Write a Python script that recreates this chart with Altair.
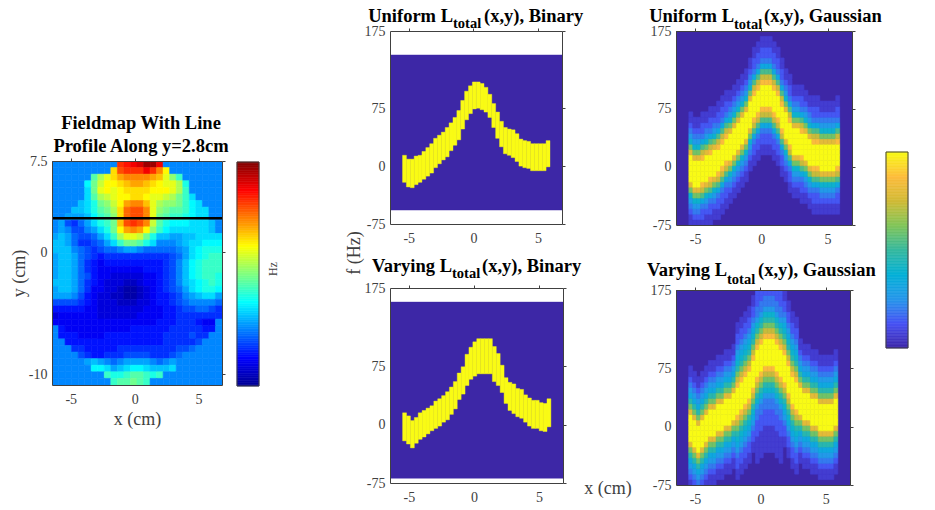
import altair as alt
import pandas as pd
import numpy as np

FONT = "Liberation Serif"
GREY = "#404040"
INDIGO = "#3d27a6"
YELLOW = "#f9fb15"

# ---- Fieldmap: one character per cell, levels 0-9a-z over -41..129 Hz
map_rows = [
    "9999999999tuvwyyv999999999",
    "999999999nstttvtqm99999999",
    "999999gjlnpqqqqpolif999999",
    "99999dhkmmnopponmllje99999",
    "99999chlmlmnnnnmmmljf99999",
    "99999cgjklmmnnmllkjhfc9999",
    "9999bcehikmpqqoljiihfdc999",
    "999bbceghjnrssqlihggfdcc99",
    "99aaabdfginrssqlhgffedcc99",
    "9a768acefhostsqkgedddcccb9",
    "9a9779acehmpqpmifdccccccb9",
    "aba8778acfjllkhebbaabbcccc",
    "bba86678acfhhgec999abccddd",
    "bbb9876788" + "9aa98" + "8888" + "9acdeee",
    "abba87" + "65666666" + "666678a" + "cdeff",
    "abba86" + "54555555" + "555679b" + "defff",
    "abba86" + "54444444" + "555679b" + "defff",
    "abba87" + "54433333" + "445679b" + "deffe",
    "bbba86" + "54333223" + "445679b" + "cdefe",
    "abba86" + "44332112" + "345678a" + "cdeed",
    "aaa975" + "43322112" + "3455679" + "abcca",
    "777765" + "43332223" + "3455678" + "99998",
    "555554" + "43333333" + "4445567" + "78876",
    "344444" + "43333334" + "4445566" + "66666",
    "444444" + "44444444" + "4455566" + "65449",
    "954444" + "44444455" + "5555666" + "66559",
    "955544" + "44555555" + "5556666" + "76699",
    "995555" + "55555555" + "5556666" + "67999",
    "999665" + "55556666" + "6666677" + "89999",
    "999976" + "55666777" + "7666789" + "99999",
    "99999a" + "ba989aaa" + "a989a99" + "99999",
    "999999" + "ddcabcdd" + "cbbbc99" + "99999",
    "999999" + "99feefgg" + "fef9999" + "99999",
    "999999" + "999fgghg" + "f999999" + "99999",
]
line_y = [2.8]

# ---- Binary bands: per column upper / lower edge (Hz)
uni_top = [14, 9, 9, 13, 14, 19, 24, 29, 36, 40, 44, 50, 56, 63, 72, 85, 97, 104, 109, 109,
           107, 102, 93, 81, 70, 58, 50, 48, 47, 42, 35, 33, 32, 29, 29, 29, 29, 33]
uni_bot = [-21, -27, -28, -24, -21, -17, -13, -9, -2, 3, 8, 12, 20, 27, 34, 48, 60, 68, 74, 75,
           73, 70, 63, 50, 36, 25, 16, 14, 11, 6, 0, -2, -3, -6, -6, -6, -6, -1]
var_top = [15, 11, 5, 9, 15, 18, 21, 24, 30, 33, 37, 42, 48, 55, 66, 74, 90, 99, 106, 110,
           110, 110, 110, 100, 91, 76, 60, 54, 52, 46, 45, 38, 34, 31, 31, 28, 27, 33]
var_bot = [-21, -25, -30, -24, -19, -16, -12, -8, -5, -2, 3, 6, 13, 20, 32, 39, 50, 58, 62, 65,
           65, 65, 65, 55, 50, 41, 27, 18, 14, 10, 8, 3, -2, -5, -5, -8, -9, -3]
uni_extent = [-57, 144]
var_extent = [-69, 157]

# ---- Gaussian panels: per column first row + hex levels (0-f over 0..1)
A = "1123469cfffffc9643211"
B = "1122358bdffffdb8532211"
uni_start = [0, -1, -1, -1, 0, 0, 1, 1, 2, 3, 4, 5, 6, 7, 8, 10, 11, 12, 13, 13,
             13, 12, 11, 9, 8, 6, 5, 5, 4, 4, 3, 2, 2, 2, 2, 2, 2, 2]
uni_cols = [A, A, A, B, A, B, A, B, B, B, A, A, A, A, A, A, B, B, B, B,
            B, B, B, B, A, B, A, A, B, A, A, B, B, A, A, A, A, B]
W = "11234579cfffffc97543211"
M = "1122345679bdfffffdb9765432211"
P = "11111222334679bdff" + "f" + "ffdb97643322211111"
var_start = [-1, -2, -3, -2, -1, 0, 0, 1, 1, 2, 2, 3, 1, 2, 3, 4, 6, 4, 5, 6,
             6, 6, 5, 4, 7, 5, 3, 2, 4, 3, 3, 2, 2, 1, 1, 1, 1, 2]
var_cols = [W, W, W, W, W, W, W, W, W, W, W, W, M, M, M, M, M, P, P, P,
            P, P, P, P, M, M, M, M, W, W, W, W, W, W, W, W, W, W]

# ---- Axis ticks / domains
map_x_dom = [-6.47, 6.83]
map_y_dom = [-10.9, 7.5]
f_x_dom = [-6.45, 6.85]
f_y_dom = [-75, 175]
x_ticks = [-5, 0, 5]
map_y_ticks = [-10, 0, 7.5]
f_ticks = [-75, 0, 75, 175]
jet_ticks = [-41, 0, 129]
par_ticks = [0, 0.2, 0.4, 0.6, 0.8, 1]

jet_dom = [-41, -19.75, 22.75, 65.25, 107.75, 129]
jet_col = ["#00008f", "#0000ff", "#00ffff", "#ffff00", "#ff0000", "#800000"]
par_dom = [0, .125, .25, .375, .5, .625, .75, .875, 1]
par_col = ["#3e26a8", "#4752f4", "#2797eb", "#03b0d7", "#36b99f", "#80c559", "#d1bb36", "#fdbc3c", YELLOW]

JET = alt.Scale(domain=jet_dom, range=jet_col, interpolate="rgb")
PAR = alt.Scale(domain=par_dom, range=par_col, interpolate="rgb")

X0, DX, NR = -5.48, 0.3, 36
DF = 250 / NR


def map_frame():
    dx = (map_x_dom[1] - map_x_dom[0]) / 26
    dy = (map_y_dom[1] - map_y_dom[0]) / len(map_rows)
    rec = []
    for r, row in enumerate(map_rows):
        for c, ch in enumerate(row.ljust(26, "9")[:26]):
            rec.append(dict(x=map_x_dom[0] + c * dx, x2=map_x_dom[0] + (c + 1) * dx,
                            y=map_y_dom[1] - (r + 1) * dy, y2=map_y_dom[1] - r * dy,
                            v=-41 + int(ch, 36) * 170 / 35))
    return pd.DataFrame(rec)


def gauss_frame(starts, cols):
    rec = []
    for i, (s, col) in enumerate(zip(starts, cols)):
        for k, ch in enumerate(col):
            r = s + k
            if 0 <= r < NR:
                rec.append(dict(x=X0 + i * DX, x2=X0 + (i + 1) * DX,
                                y=-75 + r * DF, y2=-75 + (r + 1) * DF, v=int(ch, 16) / 15))
    return pd.DataFrame(rec)


def band_frame(top, bot):
    return pd.DataFrame(dict(x=[X0 + i * DX for i in range(len(top))],
                             x2=[X0 + (i + 1) * DX for i in range(len(top))],
                             y=bot, y2=top))


def sc(d):
    return alt.Scale(domain=d, nice=False, zero=False)


def axes(xd, yd, xt, yt, xtitle=None, ytitle=None, ytp=None):
    common = dict(grid=False, domainColor=GREY, domainWidth=1, labelFont=FONT, labelFontSize=14,
                  labelColor=GREY, labelExpr="'' + datum.value", labelOverlap=False, labelFlush=False,
                  titleFont=FONT, titleFontSize=18, titleFontWeight="normal", titleColor=GREY, zindex=1)
    d = pd.DataFrame(dict(x=[xd[0]], y=[yd[0]]))
    bl = alt.Chart(d).mark_point(opacity=0, size=1).encode(
        x=alt.X("x:Q", scale=sc(xd), axis=alt.Axis(orient="bottom", values=xt, ticks=False, labelPadding=7,
                                                    title=xtitle, **common)),
        y=alt.Y("y:Q", scale=sc(yd), axis=alt.Axis(orient="left", values=yt, ticks=False, labelPadding=5,
                                                    title=ytitle, **(dict(titlePadding=ytp) if ytp is not None else {}),
                                                    **common)),
    )
    tr_common = dict(grid=False, domainColor=GREY, domainWidth=1, labels=False, ticks=True, tickSize=3,
                     tickColor=GREY, title=None, zindex=1)
    tr = alt.Chart(d).mark_point(opacity=0, size=1).encode(
        x=alt.X("x:Q", scale=sc(xd), axis=alt.Axis(orient="top", values=xt, **tr_common)),
        y=alt.Y("y:Q", scale=sc(yd), axis=alt.Axis(orient="right", values=yt, **tr_common)),
    )
    return [bl, tr]


def txt(s, x, y, size=18.5, align="left", weight="bold", color="black", angle=0):
    return alt.Chart(pd.DataFrame({"t": [s]})).mark_text(
        font=FONT, fontSize=size, fontWeight=weight, color=color, align=align, baseline="alphabetic", angle=angle
    ).encode(text="t:N", x=alt.value(x), y=alt.value(y))


def cells(df, xd, yd, scale):
    return alt.Chart(df).mark_rect(strokeWidth=0.6, clip=True).encode(
        x=alt.X("x:Q", scale=sc(xd), axis=None), x2="x2:Q",
        y=alt.Y("y:Q", scale=sc(yd), axis=None), y2="y2:Q",
        color=alt.Color("v:Q", scale=scale, legend=None),
        stroke=alt.Stroke("v:Q", scale=scale, legend=None),
    )


def plain(df, xd, yd, col):
    return alt.Chart(df).mark_rect(color=col, stroke=col, strokeWidth=0.4, clip=True).encode(
        x=alt.X("x:Q", scale=sc(xd), axis=None), x2="x2:Q",
        y=alt.Y("y:Q", scale=sc(yd), axis=None), y2="y2:Q",
    )


def build(layers, w, h):
    return alt.layer(*layers).resolve_axis(x="independent", y="independent").properties(width=w, height=h)


def spacer(w, h):
    return alt.Chart(pd.DataFrame({"a": [1]})).mark_point(opacity=0, size=1).encode(
        x=alt.value(0), y=alt.value(0)).properties(width=w, height=h)


def title3(a, b, c, end_a, end_b, base, sub):
    return [txt(a, end_a, base, align="right"), txt(b, end_a, sub, size=14.5), txt(c, end_b, base)]


def binary(top, bot, ext, w, h, ttl):
    bg = pd.DataFrame(dict(x=[f_x_dom[0]], x2=[f_x_dom[1]], y=[ext[0]], y2=[ext[1]]))
    return build([plain(bg, f_x_dom, f_y_dom, INDIGO),
                  plain(band_frame(top, bot), f_x_dom, f_y_dom, YELLOW)]
                 + axes(f_x_dom, f_y_dom, x_ticks, f_ticks) + ttl, w, h)


def gauss(starts, cols, w, h, ttl):
    bg = pd.DataFrame(dict(x=[f_x_dom[0]], x2=[f_x_dom[1]], y=[f_y_dom[0]], y2=[f_y_dom[1]]))
    return build([plain(bg, f_x_dom, f_y_dom, INDIGO),
                  cells(gauss_frame(starts, cols), f_x_dom, f_y_dom, PAR)]
                 + axes(f_x_dom, f_y_dom, x_ticks, f_ticks) + ttl, w, h)


def colorbar(dom, scale, ticks, w, h, extra=()):
    lv = np.linspace(dom[0], dom[1], 129)
    df = pd.DataFrame(dict(x=[0] * 128, x2=[1] * 128, y=lv[:-1], y2=lv[1:], v=(lv[:-1] + lv[1:]) / 2))
    base = alt.Chart(df).mark_rect(strokeWidth=0.6).encode(
        x=alt.X("x:Q", scale=sc([0, 1]), axis=None), x2="x2:Q",
        y=alt.Y("y:Q", scale=sc(dom), axis=alt.Axis(
            orient="right", values=ticks, ticks=False, grid=False, domainColor=GREY, labelFont=FONT,
            labelFontSize=14, labelColor=GREY, labelExpr="'' + datum.value", labelOverlap=False,
            labelFlush=False, labelPadding=5, zindex=1, title=None)),
        y2="y2:Q",
        color=alt.Color("v:Q", scale=scale, legend=None),
        stroke=alt.Stroke("v:Q", scale=scale, legend=None),
    )
    frame = alt.Chart(pd.DataFrame(dict(x=[0], x2=[1], y=[dom[0]], y2=[dom[1]]))).mark_rect(
        fillOpacity=0, stroke=GREY, strokeWidth=1).encode(
        x=alt.X("x:Q", scale=sc([0, 1]), axis=None), x2="x2:Q",
        y=alt.Y("y:Q", scale=sc(dom), axis=None), y2="y2:Q")
    return alt.layer(base, frame, *extra).properties(width=w, height=h)


def indep(c):
    return c.resolve_scale(color="independent", stroke="independent")


field = build(
    [cells(map_frame(), map_x_dom, map_y_dom, JET),
     alt.Chart(pd.DataFrame(dict(x=[map_x_dom[0]], x2=[map_x_dom[1]], y=line_y))).mark_rule(
         color="black", strokeWidth=2.5).encode(
         x=alt.X("x:Q", scale=sc(map_x_dom), axis=None), x2="x2:Q",
         y=alt.Y("y:Q", scale=sc(map_y_dom), axis=None))]
    + axes(map_x_dom, map_y_dom, x_ticks, map_y_ticks, xtitle="x (cm)", ytitle="y (cm)", ytp=0)
    + [txt("Fieldmap With Line", 89, -32, align="center"),
       txt("Profile Along y=2.8cm", 89, -9, align="center")],
    170, 224)

bin_u = binary(uni_top, uni_bot, uni_extent, 172, 193,
               title3("Uniform L", "total", "(x,y), Binary", 63, 94, -9, -3))
bin_v = binary(var_top, var_bot, var_extent, 173, 195,
               title3("Varying L", "total", "(x,y), Binary", 62, 92, -16, -10))
gau_u = gauss(uni_start, uni_cols, 176, 194,
              title3("Uniform L", "total", "(x,y), Gaussian", 58, 88, -9, -2))
gau_v = gauss(var_start, var_cols, 174, 195,
              title3("Varying L", "total", "(x,y), Gaussian", 51, 82, -14, -6))

hz = txt("Hz", 40, 107, size=12, weight="normal", color=GREY, align="center", angle=270)
col_map = indep(alt.vconcat(spacer(1, 83), field, spacing=0))
col_jet = indep(alt.vconcat(spacer(1, 130), colorbar([-41, 129], JET, jet_ticks, 22, 224, extra=[hz]), spacing=0))
col_f = alt.layer(spacer(78, 1), txt("f (Hz)", 80, 222, size=18, weight="normal", color=GREY, align="center", angle=270)
                  ).properties(width=78, height=1)
col_bin = indep(alt.vconcat(bin_u, bin_v, spacing=12))
col_x = alt.layer(spacer(48, 1), txt("x (cm)", 10, 463, size=18, weight="normal", color=GREY, align="center")
                  ).properties(width=48, height=1)
col_gau = indep(alt.vconcat(gau_u, gau_v, spacing=15))
col_par = indep(alt.vconcat(spacer(1, 120), colorbar([0, 1], PAR, par_ticks, 22, 196), spacing=0))

chart = indep(alt.hconcat(col_map, spacer(5, 1), col_jet, col_f, col_bin, col_x, col_gau,
                          spacer(2, 1), col_par, spacing=0)).properties(
    padding=dict(left=2, top=-1, right=0, bottom=0), background="white"
).configure_view(stroke=None)

chart.save("out.html", embed_options={"renderer": "svg", "actions": False})
